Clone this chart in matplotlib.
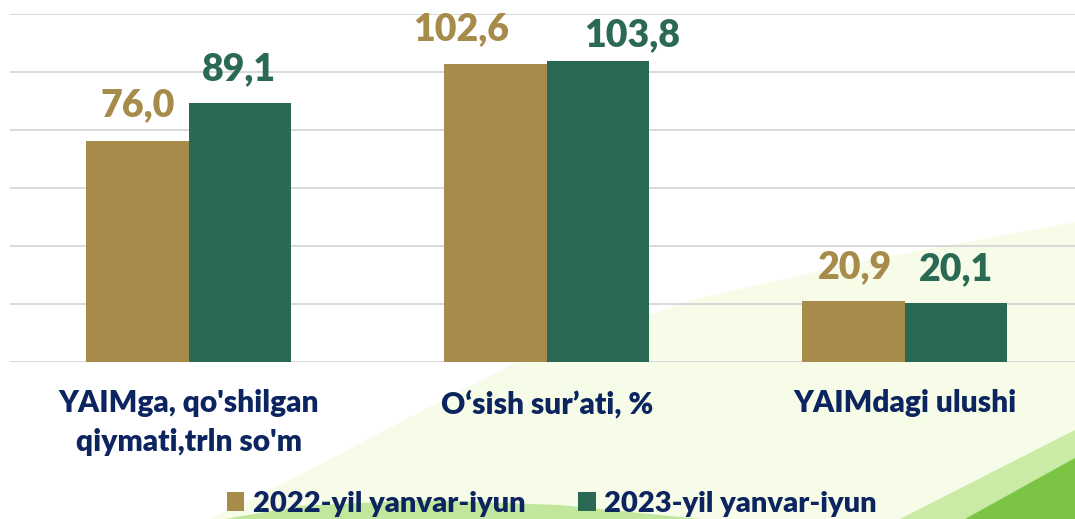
import matplotlib
matplotlib.use("Agg")
import matplotlib.pyplot as plt
from matplotlib.patches import Polygon, Patch
import numpy as np

# ---- data ----
categories = ["YAIMga, qo'shilgan\nqiymati,trln so'm", "O\u2018sish sur\u2019ati, %", "YAIMdagi ulushi"]
series_names = ["2022-yil yanvar-iyun", "2023-yil yanvar-iyun"]
values_2022 = [76.0, 102.6, 20.9]
values_2023 = [89.1, 103.8, 20.1]
y_ticks = [0, 20, 40, 60, 80, 100, 120]

# ---- style ----
GOLD = "#A68B4A"
GREEN = "#2A6954"
NAVY = "#0C245F"
GRID = "#D9D9D9"
FONT = "Lato"
HEAVY = 800

W, H, DPI = 1075, 519, 100
fig = plt.figure(figsize=(W / DPI, H / DPI), dpi=DPI, facecolor="white")

def px(x, y):
    return (x / W, 1 - y / H)

# background decoration (pale green sweep)
pale = [(210, 519), (300, 475), (420, 412), (540, 350), (700, 298), (870, 260),
        (1075, 222), (1075, 519)]
fig.add_artist(Polygon([px(*p) for p in pale], closed=True, transform=fig.transFigure,
                       facecolor="#F6FCE7", edgecolor="none", zorder=-3))
band = [(225, 519), (300, 506), (420, 500), (560, 505), (700, 519)]
fig.add_artist(Polygon([px(*p) for p in band], closed=True, transform=fig.transFigure,
                       facecolor="#B5E28A", edgecolor="none", alpha=0.8, zorder=-2))
corner_soft = [(900, 519), (1075, 430), (1075, 519)]
fig.add_artist(Polygon([px(*p) for p in corner_soft], closed=True, transform=fig.transFigure,
                       facecolor="#C9EBA6", edgecolor="none", zorder=-2))
corner = [(965, 519), (1075, 458), (1075, 519)]
fig.add_artist(Polygon([px(*p) for p in corner], closed=True, transform=fig.transFigure,
                       facecolor="#7CC443", edgecolor="none", zorder=-1))

# axes placement (plot area runs slightly past the right edge)
left_px, right_px = 9.7, 1083.7
base_px, top_px = 361.7, 13.7
ax = fig.add_axes([left_px / W, 1 - base_px / H, (right_px - left_px) / W, (base_px - top_px) / H])
ax.set_facecolor("none")

x = np.arange(len(categories))
bw = 0.2863
b1 = ax.bar(x - bw / 2, values_2022, width=bw, color=GOLD, zorder=3, label=series_names[0])
b2 = ax.bar(x + bw / 2, values_2023, width=bw, color=GREEN, zorder=3, label=series_names[1])

ax.set_xlim(-0.5, 2.5)
ax.set_ylim(0, 120)
ax.set_yticks(y_ticks)
ax.set_yticklabels([])
ax.tick_params(axis="y", length=0)
ax.yaxis.grid(True, color=GRID, linewidth=1.4, zorder=0)
ax.set_axisbelow(True)
for s in ax.spines.values():
    s.set_visible(False)

ax.set_xticks(x)
ax.set_xticklabels(categories, fontsize=21.5, fontweight=HEAVY, color=NAVY,
                   family=FONT, linespacing=1.45)
ax.tick_params(axis="x", length=0, pad=20)

# value labels: (dx px, gap px) tweaks per label
offs_2022 = [(0, 25), (-34, 24), (1, 23)]
offs_2023 = [(-1, 23), (34.5, 15), (0, 23)]

def fmt(v):
    return f"{v:.1f}".replace(".", ",")

for bars, vals, offs, col in ((b1, values_2022, offs_2022, GOLD), (b2, values_2023, offs_2023, GREEN)):
    for rect, v, (dx, gap) in zip(bars, vals, offs):
        ax.annotate(fmt(v), xy=(rect.get_x() + rect.get_width() / 2, v),
                    xytext=(dx * 0.72, gap * 0.72), textcoords="offset points",
                    ha="center", va="baseline", fontsize=27, fontweight=HEAVY,
                    color=col, family=FONT, zorder=5, annotation_clip=False)

handles = [Patch(facecolor=GOLD, edgecolor="none"), Patch(facecolor=GREEN, edgecolor="none")]
leg = fig.legend(handles, series_names, loc="center", bbox_to_anchor=(552 / W, 1 - 504 / H),
                 ncol=2, frameon=False, handlelength=0.6, handleheight=0.6,
                 handletextpad=0.3, columnspacing=1.8, borderpad=0,
                 prop={"family": FONT, "weight": HEAVY, "size": 21})
for t in leg.get_texts():
    t.set_color(NAVY)

fig.savefig("out.png", dpi=DPI, facecolor="white")
